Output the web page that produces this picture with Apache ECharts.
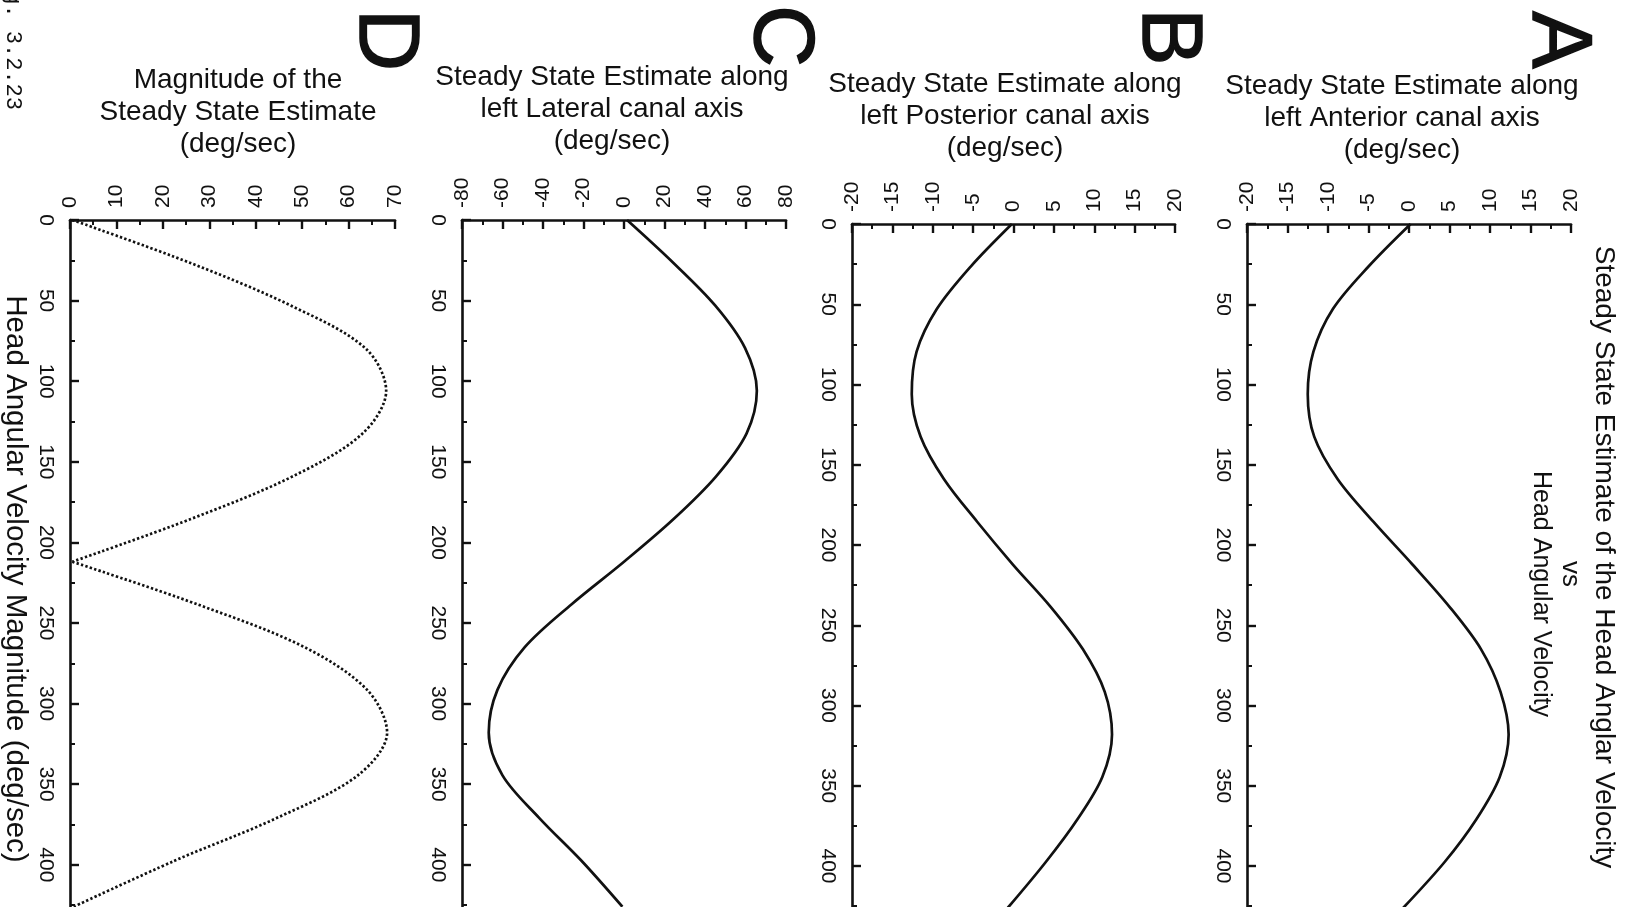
<!DOCTYPE html>
<html>
<head>
<meta charset="utf-8">
<title>Steady State Estimate of the Head Anglar Velocity vs Head Angular Velocity</title>
<script src="https://cdn.jsdelivr.net/npm/echarts@6/dist/echarts.min.js"></script>
<style>
  html, body { margin: 0; padding: 0; background: #ffffff; }
  #chart { width: 1629px; height: 907px; }
</style>
</head>
<body>
<div id="chart"></div>
<script>
// Head angular velocity magnitude (deg/sec) at which every estimate is sampled
const velocity = [0, 26.5, 53, 79.5, 106, 132.5, 159, 185.5, 212, 238.5, 265, 291.5, 318, 344.5, 371, 397.5, 426];

// Steady state estimate along the left anterior canal axis (deg/sec)
const anteriorEst = [0.2, -5.0, -9.4, -11.8, -12.5, -11.7, -8.8, -4.4, 0.4, 5.0, 8.9, 11.3, 12.3, 11.2, 8.3, 4.4, -0.7];

// Steady state estimate along the left posterior canal axis (deg/sec)
const posteriorEst = [-0.2, -5.3, -9.5, -12.0, -12.6, -11.5, -8.6, -4.5, -0.1, 4.6, 8.6, 11.3, 12.2, 11.0, 7.9, 4.0, -0.7];

// Steady state estimate along the left lateral canal axis (deg/sec)
const lateralEst = [1.5, 24.3, 45.0, 59.8, 65.6, 60.5, 45.5, 24.5, 0.0, -26.0, -49.0, -62.5, -66.8, -60.0, -41.8, -21.0, -0.8];

// Magnitude of the steady state estimate (deg/sec)
const magnitudeEst = [0.5, 25.8, 47.5, 63.6, 68.1, 63.0, 48.0, 26.0, 0.5, 27.5, 50.5, 64.0, 68.3, 62.0, 44.5, 22.5, 0.8];

// Value-axis ranges (min, max, label step) for panels A..D
const estimateRanges = [[-20, 20, 5], [-20, 20, 5], [-80, 80, 20], [0, 70, 10]];
const velocityRange = [0, 450, 50];
const lastVelocityLabel = 400;

const panelLetters = ['A', 'B', 'C', 'D'];
const panelTitles = [
  'Steady State Estimate along\nleft Anterior canal axis\n(deg/sec)',
  'Steady State Estimate along\nleft Posterior canal axis\n(deg/sec)',
  'Steady State Estimate along\nleft Lateral canal axis\n(deg/sec)',
  'Magnitude of the\nSteady State Estimate\n(deg/sec)'
];
const mainTitleLines = ['Steady State Estimate of the Head Anglar Velocity', 'vs', 'Head Angular Velocity'];
const velocityAxisName = 'Head Angular Velocity Magnitude (deg/sec)';
const figureNumber = 'Fig. 3.2.23';

const INK = '#111111';
const FONT = '"Liberation Sans", Arial, Helvetica, sans-serif';
const SMOOTH = 0.33;

// Plot boxes (pixels). The velocity axis runs downward past the bottom edge.
const layout = [
  { left: 1247, top: 224, width: 324, pxPerVel: 1.605, title: [1402, 118], letter: [1557, 40] },
  { left: 852,  top: 224, width: 323, pxPerVel: 1.605, title: [1005, 116], letter: [1167, 37] },
  { left: 462,  top: 220, width: 324, pxPerVel: 1.612, title: [612, 109],  letter: [779, 36] },
  { left: 70,   top: 220, width: 325, pxPerVel: 1.612, title: [238, 112],  letter: [384, 40] }
];

const estimates = [anteriorEst, posteriorEst, lateralEst, magnitudeEst];

const grids = [], xAxes = [], yAxes = [], series = [];

layout.forEach((g, i) => {
  grids.push({
    left: g.left, top: g.top, width: g.width,
    height: (velocityRange[1] - velocityRange[0]) * g.pxPerVel,
    containLabel: false,
    outerBoundsMode: 'none'
  });
  const r = estimateRanges[i];
  xAxes.push({
    gridIndex: i, type: 'value', position: 'top',
    min: r[0], max: r[1], interval: r[2],
    axisLine: { onZero: false, lineStyle: { color: INK, width: 2.6 } },
    axisTick: { inside: true, length: 9, lineStyle: { color: INK, width: 2.4 } },
    minorTick: { show: true, splitNumber: 2, length: 5, lineStyle: { color: INK, width: 2 } },
    splitLine: { show: false }, minorSplitLine: { show: false },
    axisLabel: { rotate: -90, margin: 12, fontSize: 21, color: INK, fontFamily: FONT,
                 showMinLabel: true, showMaxLabel: true }
  });
  yAxes.push({
    gridIndex: i, type: 'value', inverse: true,
    min: velocityRange[0], max: velocityRange[1], interval: velocityRange[2],
    axisLine: { onZero: false, lineStyle: { color: INK, width: 2.6 } },
    axisTick: { inside: true, length: 9, lineStyle: { color: INK, width: 2.4 } },
    minorTick: { show: true, splitNumber: 2, length: 5, lineStyle: { color: INK, width: 2 } },
    splitLine: { show: false }, minorSplitLine: { show: false },
    axisLabel: {
      rotate: -90, margin: 14, fontSize: 21, color: INK, fontFamily: FONT,
      formatter: v => (v <= lastVelocityLabel ? String(v) : '')
    }
  });

  const points = velocity.map((v, k) => [estimates[i][k], v]);
  if (i < 3) {
    series.push({
      type: 'line', xAxisIndex: i, yAxisIndex: i, data: points,
      smooth: SMOOTH, symbol: 'none', silent: true,
      lineStyle: { color: INK, width: 2.7 }
    });
  } else {
    // the magnitude touches zero at the crossing, so each lobe is drawn on its own
    const cusp = velocity.indexOf(212);
    [points.slice(0, cusp + 1), points.slice(cusp)].forEach(part => {
      series.push({
        type: 'line', xAxisIndex: i, yAxisIndex: i, data: part,
        smooth: SMOOTH, symbol: 'none', silent: true,
        lineStyle: { color: INK, width: 2.7, type: [2.4, 2.2] }
      });
    });
  }
});

const graphic = [];
layout.forEach((g, i) => {
  graphic.push({
    type: 'text', x: g.title[0], y: g.title[1], silent: true,
    style: { text: panelTitles[i], font: '28px ' + FONT, fill: INK,
             align: 'center', verticalAlign: 'middle', lineHeight: 32 }
  });
  graphic.push({
    type: 'text', x: g.letter[0], y: g.letter[1], rotation: -Math.PI / 2, silent: true,
    style: { text: panelLetters[i], font: '86px ' + FONT, fill: INK,
             stroke: INK, lineWidth: 1.5,
             align: 'center', verticalAlign: 'middle' }
  });
});

// overall heading, set sideways along the right edge
const headingPos = [[1604, 557], [1570, 574], [1541, 594]];
const headingSize = [28, 26, 25];
mainTitleLines.forEach((t, k) => {
  graphic.push({
    type: 'text', x: headingPos[k][0], y: headingPos[k][1], rotation: -Math.PI / 2, silent: true,
    style: { text: t, font: headingSize[k] + 'px ' + FONT, fill: INK, align: 'center', verticalAlign: 'middle' }
  });
});

// shared velocity axis name, along the left edge
graphic.push({
  type: 'text', x: 15, y: 579, rotation: -Math.PI / 2, silent: true,
  style: { text: velocityAxisName, font: '29.5px ' + FONT, fill: INK, align: 'center', verticalAlign: 'middle' }
});

// page number in typewriter type
graphic.push({
  type: 'text', x: 13, y: 110, rotation: -Math.PI / 2, silent: true,
  style: { text: figureNumber, font: '22px "Liberation Mono", "DejaVu Sans Mono", monospace', fill: INK,
           align: 'right', verticalAlign: 'middle' }
});

const chart = echarts.init(document.getElementById('chart'), null, { renderer: 'canvas' });
chart.setOption({
  backgroundColor: '#ffffff',
  animation: false,
  grid: grids,
  xAxis: xAxes,
  yAxis: yAxes,
  series: series,
  graphic: graphic
});
</script>
</body>
</html>
